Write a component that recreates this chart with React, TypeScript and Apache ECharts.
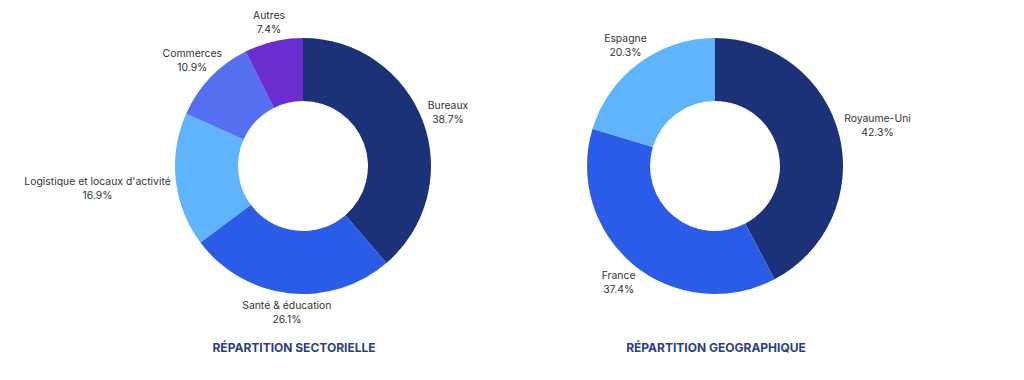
import React, { useEffect, useRef } from "react";
import * as echarts from "echarts";

const sectorNames = ["Bureaux", "Santé & éducation", "Logistique et locaux d'activité", "Commerces", "Autres"];
const sectorValues = [38.7, 26.1, 16.9, 10.9, 7.4];
const sectorColors = ["#1b3278", "#2a5ce8", "#5fb4fb", "#5470f0", "#6a2ed0"];

const geoNames = ["Royaume-Uni", "France", "Espagne"];
const geoValues = [42.3, 37.4, 20.3];
const geoColors = ["#1b3278", "#2a5ce8", "#5fb4fb"];

const titles = ["RÉPARTITION SECTORIELLE", "RÉPARTITION GEOGRAPHIQUE"];

const CENTERS: [number, number][] = [[303, 166], [715, 166]];
const TITLE_X = [289, 711];
const OUTER = 128;
const INNER = 65;
const OFFSET = 5;

function midAngles(values: number[]): number[] {
  const total = values.reduce((a, b) => a + b, 0);
  let cum = 0;
  return values.map((v) => {
    const mid = cum + v / 2;
    cum += v;
    return (mid / total) * Math.PI * 2;
  });
}

function makeLayout(values: number[], center: [number, number]) {
  const angles = midAngles(values);
  return (params: any) => {
    const a = angles[params.dataIndex];
    const vx = Math.sin(a);
    const vy = -Math.cos(a);
    const w = params.labelRect.width;
    const h = params.labelRect.height;
    const tx = Math.abs(vx) > 1e-6 ? w / 2 / Math.abs(vx) : Infinity;
    const ty = Math.abs(vy) > 1e-6 ? h / 2 / Math.abs(vy) : Infinity;
    const d = OUTER + Math.min(tx, ty) + OFFSET;
    return { x: center[0] + vx * d, y: center[1] + vy * d, align: "center", verticalAlign: "middle" };
  };
}

function pieSeries(names: string[], values: number[], colors: string[], center: [number, number]) {
  return {
    type: "pie",
    center,
    radius: [INNER, OUTER],
    startAngle: 90,
    clockwise: true,
    avoidLabelOverlap: false,
    silent: true,
    data: names.map((n, i) => ({ name: n, value: values[i], itemStyle: { color: colors[i] } })),
    label: {
      show: true,
      position: "outside",
      formatter: (p: any) => `${p.name}\n${p.value.toFixed(1)}%`,
      color: "#333333",
      fontFamily: "Inter",
      fontSize: 10.4,
      lineHeight: 14,
      align: "center",
    },
    labelLine: { show: false },
    labelLayout: makeLayout(values, center),
  };
}

export default function App() {
  const ref = useRef<HTMLDivElement>(null);
  useEffect(() => {
    if (!ref.current) return;
    const chart = echarts.init(ref.current, undefined, { renderer: "svg" });
    chart.setOption({
      animation: false,
      backgroundColor: "#ffffff",
      title: titles.map((t, i) => ({
        text: t,
        left: TITLE_X[i],
        top: 336,
        textAlign: "center",
        textStyle: { color: "#2b3f86", fontFamily: "Inter", fontWeight: "bold", fontSize: 12 },
      })),
      series: [
        pieSeries(sectorNames, sectorValues, sectorColors, CENTERS[0]),
        pieSeries(geoNames, geoValues, geoColors, CENTERS[1]),
      ],
    });
    return () => chart.dispose();
  }, []);
  return <div ref={ref} style={{ position: "absolute", left: 0, top: 0, width: 1024, height: 380 }} />;
}
